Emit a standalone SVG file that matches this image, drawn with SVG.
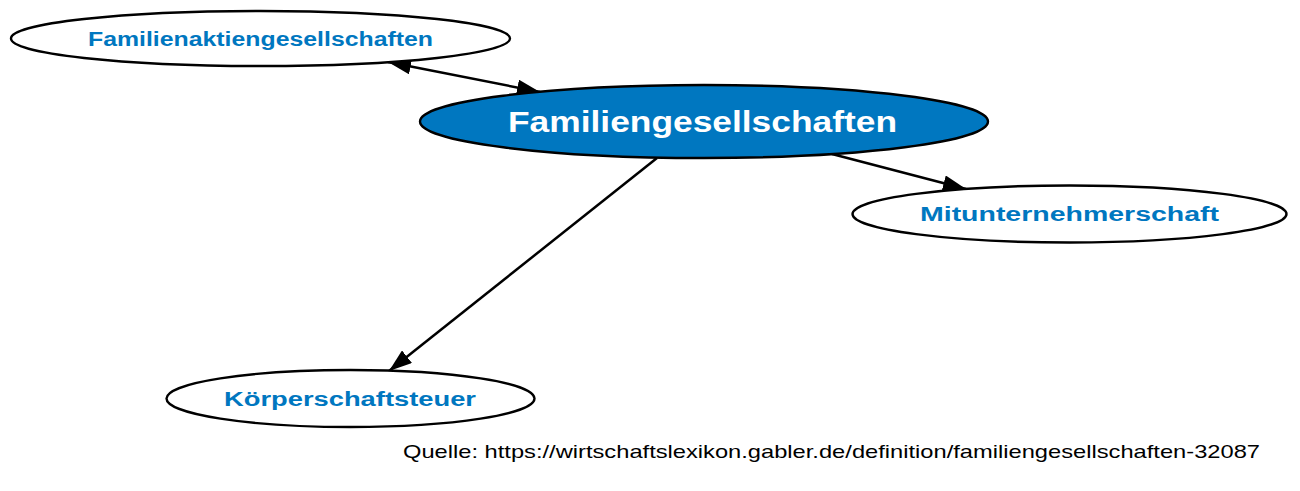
<svg xmlns="http://www.w3.org/2000/svg" width="1300" height="491" viewBox="0 0 1300 491">
<style>
.node ellipse{fill:#fff;stroke:#000;stroke-width:2.4}
.lbl{font-family:"Liberation Sans",Arial,sans-serif;font-weight:bold;font-size:20px;fill:#0077c0;text-anchor:middle}
.main ellipse{fill:#0077c0}
.main text{fill:#fff;font-size:29px}
.edge{stroke:#000;stroke-width:2.5;fill:none}
.src{font-family:"Liberation Sans",Arial,sans-serif;font-size:19px;fill:#000}
</style>
<defs>
<marker id="ahL" viewBox="0 0 10 10" refX="10" refY="5" markerWidth="23" markerHeight="16" markerUnits="userSpaceOnUse" orient="auto-start-reverse" preserveAspectRatio="none">
<path d="M0,0 L10,5 L0,10 Z" fill="#000"/>
</marker>
</defs>
<rect width="1300" height="491" fill="#fff"/>
<g id="connectors">
<line class="edge" x1="388" y1="62" x2="540" y2="92" marker-start="url(#ahL)" marker-end="url(#ahL)"/>
<line class="edge" x1="832" y1="154" x2="966" y2="189" marker-end="url(#ahL)"/>
<line class="edge" x1="657" y1="158" x2="389" y2="371" marker-end="url(#ahL)"/>
</g>
<g id="n-familienaktiengesellschaften" class="node">
<ellipse cx="260.5" cy="38.5" rx="249.5" ry="27.5"/>
<text class="lbl" x="260.5" y="45.5" textLength="345" lengthAdjust="spacingAndGlyphs">Familienaktiengesellschaften</text>
</g>
<g id="n-familiengesellschaften" class="node main">
<ellipse cx="704" cy="121.5" rx="284" ry="36.5"/>
<text class="lbl" x="702.5" y="131.5" textLength="389" lengthAdjust="spacingAndGlyphs">Familiengesellschaften</text>
</g>
<g id="n-mitunternehmerschaft" class="node">
<ellipse cx="1069.5" cy="214" rx="217" ry="28.5"/>
<text class="lbl" x="1069.5" y="221" textLength="299" lengthAdjust="spacingAndGlyphs">Mitunternehmerschaft</text>
</g>
<g id="n-koerperschaftsteuer" class="node">
<ellipse cx="350.5" cy="398.5" rx="184" ry="28.5"/>
<text class="lbl" x="350" y="405.5" textLength="252" lengthAdjust="spacingAndGlyphs">Körperschaftsteuer</text>
</g>
<text class="src" x="403" y="458" textLength="857" lengthAdjust="spacingAndGlyphs">Quelle: https://wirtschaftslexikon.gabler.de/definition/familiengesellschaften-32087</text>
</svg>
